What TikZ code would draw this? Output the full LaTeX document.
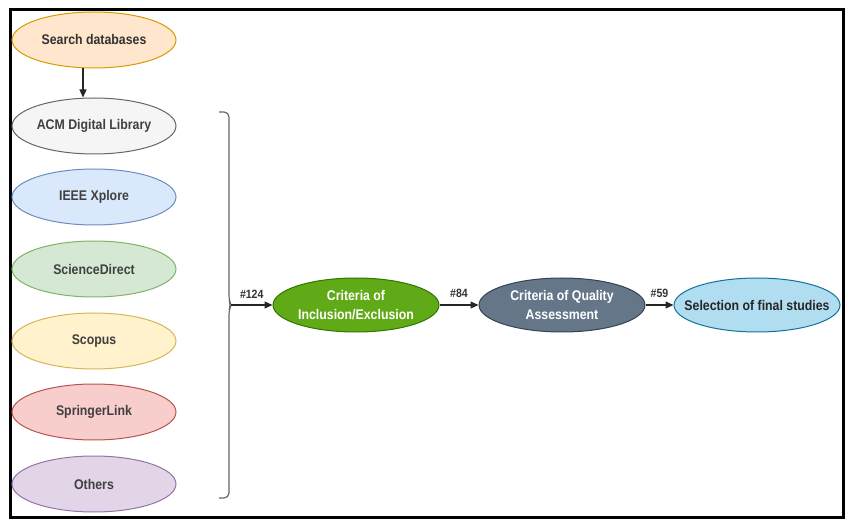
\documentclass[tikz,border=0pt]{standalone}
\usepackage{fontspec}
\setmainfont{Liberation Sans}
\newfontfamily\narrowfont{Liberation Sans}[FakeStretch=0.88]
\usepackage{xcolor}
\usetikzlibrary{shapes,arrows,positioning,calc,arrows.meta}

% draw.io like palette
\definecolor{orangeF}{HTML}{FFE6CC}\definecolor{orangeD}{HTML}{D79B00}
\definecolor{greyF}{HTML}{F5F5F5}\definecolor{greyD}{HTML}{666666}
\definecolor{blueF}{HTML}{DAE8FC}\definecolor{blueD}{HTML}{6C8EBF}
\definecolor{greenF}{HTML}{D5E8D4}\definecolor{greenD}{HTML}{82B366}
\definecolor{yellowF}{HTML}{FFF2CC}\definecolor{yellowD}{HTML}{D6B656}
\definecolor{redF}{HTML}{F8CECC}\definecolor{redD}{HTML}{B85450}
\definecolor{purpleF}{HTML}{E1D5E7}\definecolor{purpleD}{HTML}{9673A6}
\definecolor{inclF}{HTML}{60A917}\definecolor{inclD}{HTML}{2D7600}
\definecolor{qualF}{HTML}{647687}\definecolor{qualD}{HTML}{314354}
\definecolor{selF}{HTML}{B1DDF0}\definecolor{selD}{HTML}{10739E}

\begin{document}
\begin{tikzpicture}[x=1pt,y=-1pt,
    oval/.style={ellipse, draw, line width=1pt, inner sep=0pt},
    dbnode/.style={oval, minimum width=164pt, minimum height=56pt},
    stagenode/.style={oval, minimum width=166pt, minimum height=54pt},
    ovaltext/.style={align=center, inner sep=0pt, font=\narrowfont\bfseries\fontsize{14}{19}\selectfont},
    flow/.style={-{Triangle[length=8pt,width=7pt]}, line width=1.2pt, draw=black!85},
    count/.style={font=\narrowfont\bfseries\fontsize{12}{13}\selectfont, text=black!80}]

    \useasboundingbox (0,0) rectangle (851,526);
    \draw[line width=3pt] (10,10) rectangle (843,517);

    % Sources
    \node[dbnode, fill=orangeF, draw=orangeD, label={[ovaltext, text=black!80]center:Search databases}] (search) at (94,40) {};
    \node[dbnode, fill=greyF, draw=greyD, label={[ovaltext, text=black!75]center:ACM Digital Library}] (acm) at (94,126) {};
    \node[dbnode, fill=blueF, draw=blueD, label={[ovaltext, text=black!75]center:IEEE Xplore}] (ieee) at (94,197) {};
    \node[dbnode, fill=greenF, draw=greenD, label={[ovaltext, text=black!75]center:ScienceDirect}] (sd) at (94,269) {};
    \node[dbnode, fill=yellowF, draw=yellowD, label={[ovaltext, text=black!75]center:Scopus}] (scopus) at (94,341) {};
    \node[dbnode, fill=redF, draw=redD, label={[ovaltext, text=black!75]center:SpringerLink}] (springer) at (94,412) {};
    \node[dbnode, fill=purpleF, draw=purpleD, label={[ovaltext, text=black!75]center:Others}] (others) at (94,484) {};

    \draw[flow] ([xshift=-11pt]search.south) -- ([xshift=-11pt]acm.north);

    % Brace
    \coordinate (tip) at (231,305);
    \draw[greyD, line width=1.2pt, rounded corners=5pt]
        (219,112) -- (229,112) -- (229,300) -- (tip) -- (229,310) -- (229,498) -- (219,498);

    % Selection stages
    \node[stagenode, fill=inclF, draw=inclD, label={[ovaltext, text=white]center:Criteria of\\Inclusion/Exclusion}] (incl) at (356,305) {};
    \node[stagenode, fill=qualF, draw=qualD, label={[ovaltext, text=white]center:Criteria of Quality\\Assessment}] (qual) at (562,305) {};
    \node[stagenode, fill=selF, draw=selD, label={[ovaltext, text=black!85]center:Selection of final studies}] (final) at (757,305) {};

    \draw[flow] (tip) -- node[count, above=3pt] {\#124} (incl.west);
    \draw[flow] (incl.east) -- node[count, above=3pt] {\#84} (qual.west);
    \draw[flow] (qual.east) -- node[count, above=3pt] {\#59} (final.west);
\end{tikzpicture}
\end{document}
